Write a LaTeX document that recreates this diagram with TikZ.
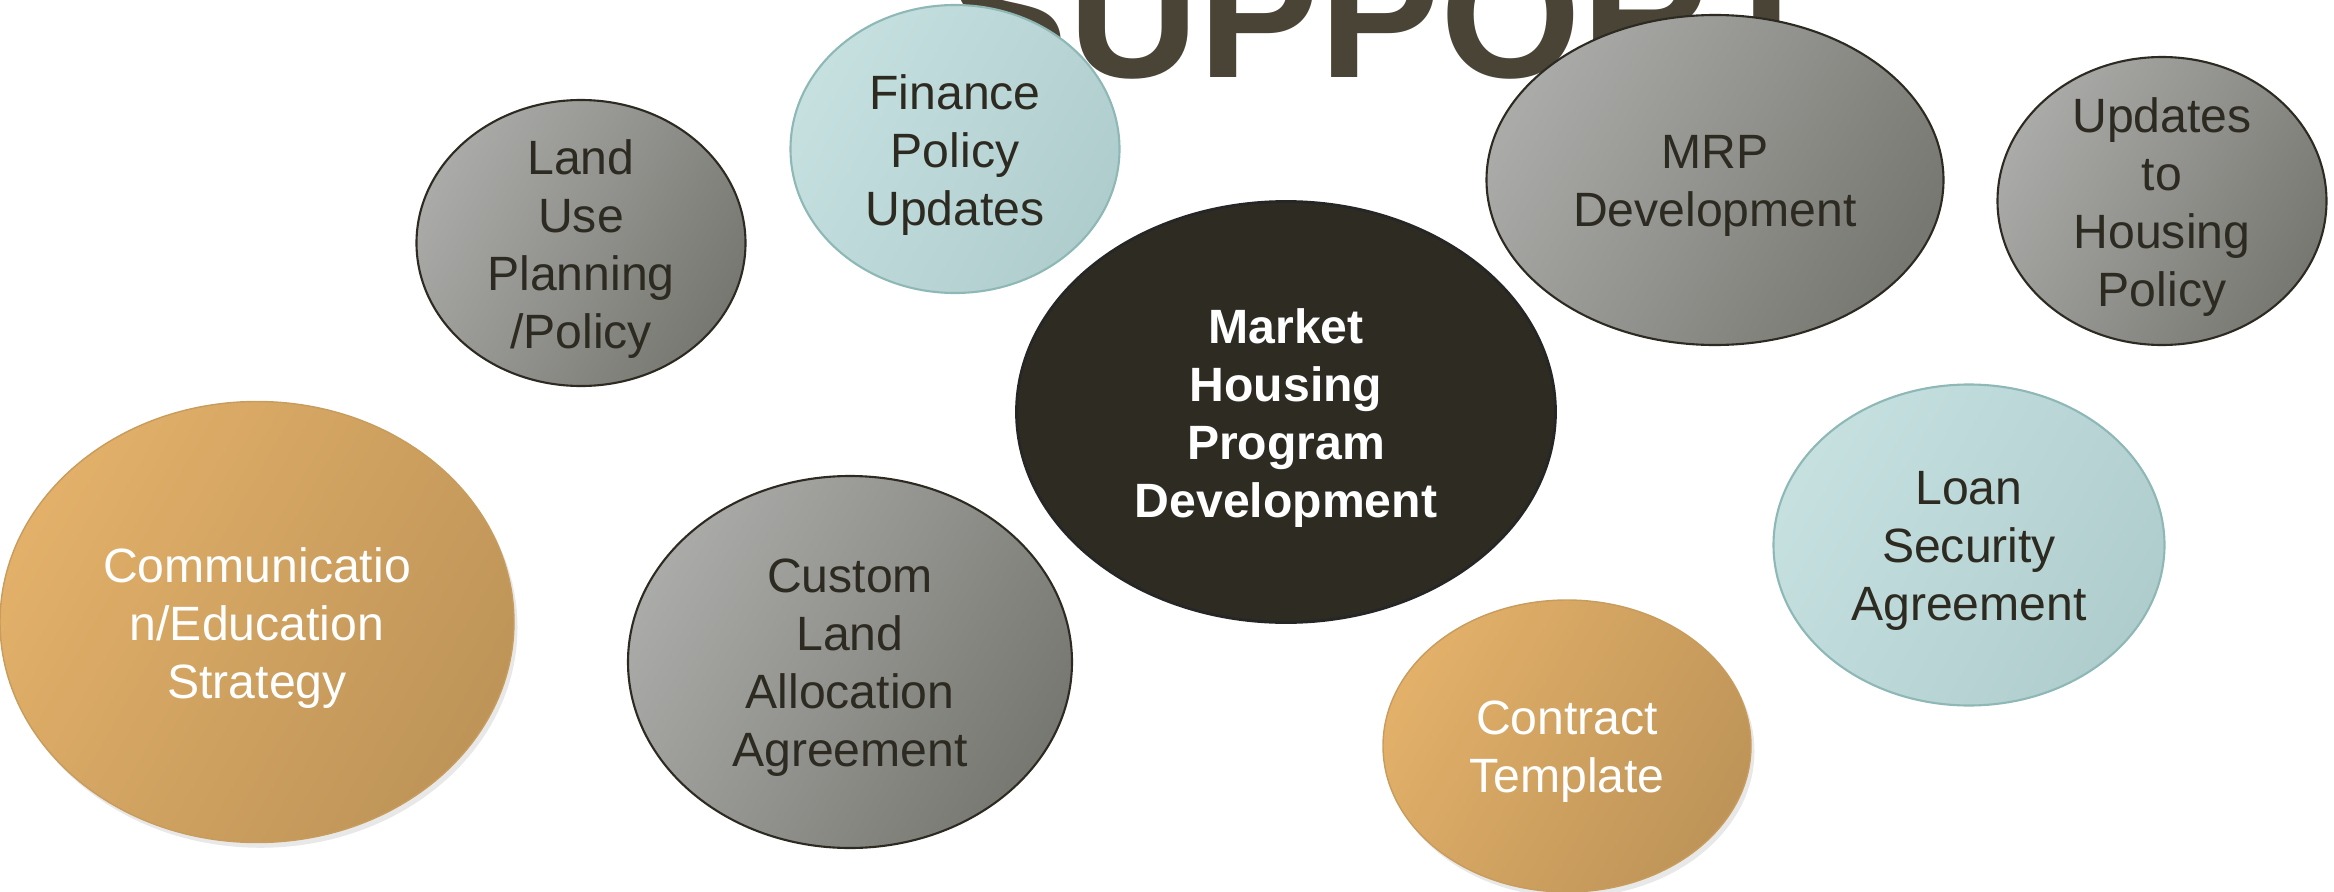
\documentclass[tikz,border=0pt]{standalone}
\usepackage{fontspec}
\setmainfont{Liberation Sans}
\usetikzlibrary{shapes.geometric,shadows}

\definecolor{ink}{RGB}{45,43,33}
\definecolor{headline}{RGB}{74,68,54}
\definecolor{grayhi}{RGB}{170,170,168}
\definecolor{graylo}{RGB}{120,120,114}
\definecolor{tealhi}{RGB}{198,224,224}
\definecolor{teallo}{RGB}{176,205,205}
\definecolor{tealrim}{RGB}{141,184,182}
\definecolor{amberhi}{RGB}{226,176,105}
\definecolor{amberlo}{RGB}{190,148,88}
\definecolor{amberrim}{RGB}{200,156,92}
\definecolor{corefill}{RGB}{46,44,34}

\begin{document}
\begin{tikzpicture}[
  bubble/.style={ellipse,inner sep=0pt},
  graybubble/.style={bubble,draw=ink,line width=0.6pt,top color=grayhi,bottom color=graylo,shading angle=60},
  tealbubble/.style={bubble,draw=tealrim,line width=0.6pt,top color=tealhi,bottom color=teallo,shading angle=60},
  amberbubble/.style={bubble,draw=amberrim,line width=0.4pt,top color=amberhi,bottom color=amberlo,shading angle=60,
    drop shadow={opacity=0.18,shadow xshift=1pt,shadow yshift=-1.5pt}},
  corebubble/.style={bubble,draw=black!85,line width=0.8pt,fill=corefill},
  txt/.style={align=center,yshift=-0.06cm,font=\fontsize{13.7pt}{16.5pt}\selectfont,text=ink},
  lighttxt/.style={txt,text=white},
  boldtxt/.style={txt,text=white,font=\fontsize{13.7pt}{16.5pt}\selectfont\bfseries},
]
\useasboundingbox (0,0) rectangle (23.34,8.91);
\clip (0,0) rectangle (23.34,8.91);

% heading sits behind the bubbles, top cut by the page
\node[anchor=base,inner sep=0pt,text=headline,font=\fontsize{51.5pt}{52pt}\selectfont\bfseries] (heading) at (13.85,8.13) {SUPPORT};

\node[graybubble,minimum width=3.29cm,minimum height=2.86cm] (landuse) at (5.81,6.48) {};
\node[txt] (landuse-t) at (landuse) {Land\\Use\\Planning\\/Policy};

\node[tealbubble,minimum width=3.29cm,minimum height=2.88cm] (finance) at (9.55,7.42) {};
\node[txt] (finance-t) at (finance) {Finance\\Policy\\Updates};

\node[graybubble,minimum width=4.57cm,minimum height=3.30cm] (mrp) at (17.15,7.11) {};
\node[txt] (mrp-t) at (mrp) {MRP\\Development};

\node[graybubble,minimum width=3.29cm,minimum height=2.88cm] (housing) at (21.62,6.90) {};
\node[txt] (housing-t) at (housing) {Updates\\to\\Housing\\Policy};

\node[corebubble,minimum width=5.39cm,minimum height=4.21cm] (core) at (12.86,4.79) {};
\node[boldtxt] (core-t) at (core) {Market\\Housing\\Program\\Development};

\node[amberbubble,minimum width=5.14cm,minimum height=4.41cm] (comms) at (2.57,2.69) {};
\node[lighttxt] (comms-t) at (comms) {Communicatio\\n/Education\\Strategy};

\node[graybubble,minimum width=4.44cm,minimum height=3.72cm] (custom) at (8.50,2.29) {};
\node[txt] (custom-t) at (custom) {Custom\\Land\\Allocation\\Agreement};

\node[tealbubble,minimum width=3.91cm,minimum height=3.21cm] (loan) at (19.69,3.46) {};
\node[txt] (loan-t) at (loan) {Loan\\Security\\Agreement};

\node[amberbubble,minimum width=3.68cm,minimum height=2.92cm] (contract) at (15.67,1.45) {};
\node[lighttxt] (contract-t) at (contract) {Contract\\Template};
\end{tikzpicture}
\end{document}
